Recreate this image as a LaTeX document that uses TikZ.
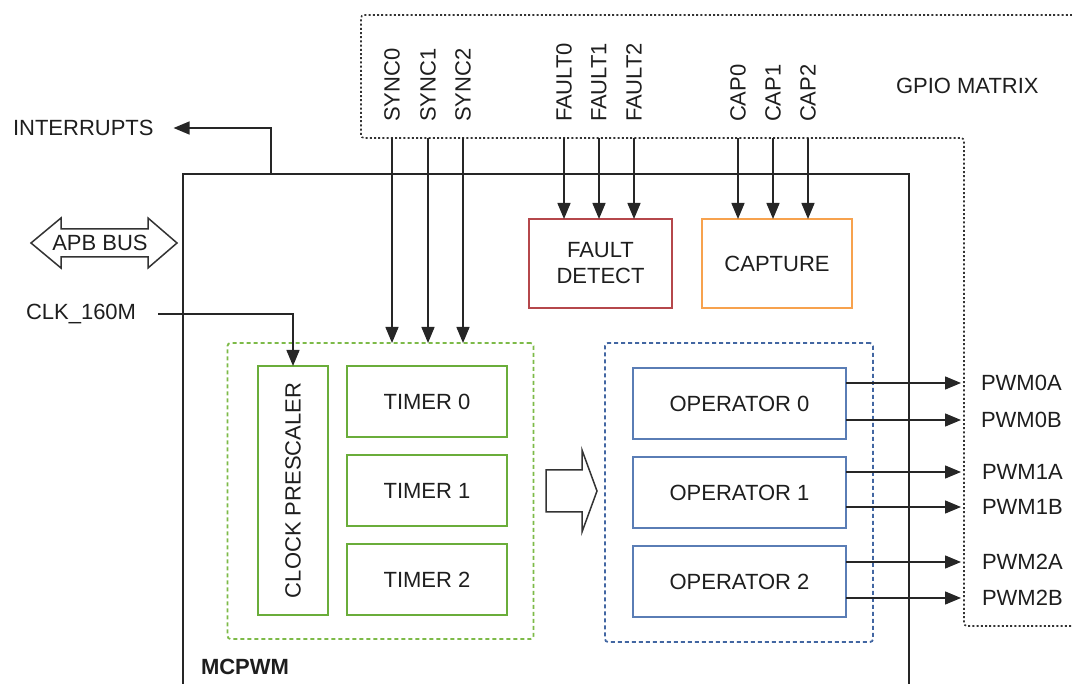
\documentclass[tikz,border=0pt]{standalone}
\usepackage{graphicx}
\usepackage{fontspec}
\setmainfont{Liberation Sans}
\usetikzlibrary{arrows.meta}
\definecolor{tmrgreen}{HTML}{6AAD3A}
\definecolor{tmrdot}{HTML}{7DBA48}
\definecolor{opblue}{HTML}{5A7DB5}
\definecolor{opdot}{HTML}{4266A2}
\definecolor{faultred}{HTML}{B5474B}
\definecolor{caporange}{HTML}{F7A24E}
\definecolor{ink}{HTML}{1E1E1E}

\begin{document}
\begin{tikzpicture}[x=1pt, y=-1pt, font=\fontsize{22}{26}\selectfont, line join=miter,
  every node/.style={inner sep=0pt, outer sep=0pt, text=ink},
  grnbox/.style={draw=tmrgreen, line width=1.6pt},
  opbox/.style={draw=opblue, line width=1.6pt, minimum width=213pt, minimum height=71pt},
  grpbox/.style={line width=1.8pt, dash pattern=on 4pt off 3pt, rounded corners=3pt},
  sig/.style={rotate=90, anchor=west},
  arr/.style={-{Triangle[length=16pt, width=13pt]}, line width=1.5pt, draw=black!85}]
    \useasboundingbox (0,0) rectangle (1072,684);
    % gpio matrix and the mcpwm frame
    \draw[line width=1.6pt, black!80, dash pattern=on 2pt off 2.2pt, rounded corners=3pt]
        (1072,15) -- (361,15) -- (361,138) -- (964,138) -- (964,626) -- (1072,626);
    \draw[line width=1.8pt, black!85] (183,684) -- (183,174) -- (909,174) -- (909,684);
    \coordinate (gpiob) at (0,138);
    \coordinate (gpior) at (961,0);
    \node[anchor=west] (gpio) at (896,86) {GPIO MATRIX};
    \node[anchor=west, font=\fontsize{22}{26}\selectfont\bfseries] (mcpwm) at (201,667) {MCPWM};

    % left side signals
    \node[anchor=west] (intr) at (13,128) {INTERRUPTS};
    \draw[arr] (271,174) |- ([xshift=20pt]intr.east);
    \draw[line width=1.5pt, black!80, fill=white]
        (31,243) -- (61,218) -- (61,229) -- (148,229) -- (148,218) -- (177,243)
        -- (148,268) -- (148,257) -- (61,257) -- (61,268) -- cycle;
    \node (apb) at (100,243) {APB BUS};
    \node[anchor=west] (clk) at (26,314) {CLK\_160M};

    % timers
    \node[grpbox, draw=tmrdot, minimum width=306pt, minimum height=296pt] (timers) at (380.5,491) {};
    \node[grnbox, minimum width=70pt, minimum height=249pt] (presc) at (293,490.5) {\rotatebox{90}{CLOCK PRESCALER}};
    \node[grnbox, minimum width=160pt, minimum height=71pt] (timer0) at (427,401.5) {TIMER 0};
    \node[grnbox, minimum width=160pt, minimum height=71pt] (timer1) at (427,490.5) {TIMER 1};
    \node[grnbox, minimum width=160pt, minimum height=71pt] (timer2) at (427,579.5) {TIMER 2};
    \draw[arr] ([xshift=22pt]clk.east) -| (presc.north);

    % sync, fault and capture inputs
    \node[sig] (sync0) at (392,122) {SYNC0};
    \node[sig] (sync1) at (428,122) {SYNC1};
    \node[sig] (sync2) at (463,122) {SYNC2};
    \node[sig] (fault0) at (564,122) {FAULT0};
    \node[sig] (fault1) at (599,122) {FAULT1};
    \node[sig] (fault2) at (634,122) {FAULT2};
    \node[sig] (cap0) at (738,122) {CAP0};
    \node[sig] (cap1) at (773,122) {CAP1};
    \node[sig] (cap2) at (808,122) {CAP2};
    \node[draw=faultred, line width=1.8pt, minimum width=143pt, minimum height=89pt, align=center] (fault) at (600.5,263.5) {FAULT\\DETECT};
    \node[draw=caporange, line width=1.8pt, minimum width=150pt, minimum height=89pt] (capture) at (777,263.5) {CAPTURE};
    \draw[arr] (sync0 |- gpiob) -- (sync0 |- timers.north);
    \draw[arr] (sync1 |- gpiob) -- (sync1 |- timers.north);
    \draw[arr] (sync2 |- gpiob) -- (sync2 |- timers.north);
    \draw[arr] (fault0 |- gpiob) -- (fault0 |- fault.north);
    \draw[arr] (fault1 |- gpiob) -- (fault1 |- fault.north);
    \draw[arr] (fault2 |- gpiob) -- (fault2 |- fault.north);
    \draw[arr] (cap0 |- gpiob) -- (cap0 |- capture.north);
    \draw[arr] (cap1 |- gpiob) -- (cap1 |- capture.north);
    \draw[arr] (cap2 |- gpiob) -- (cap2 |- capture.north);

    % timers to operators
    \draw[line width=1.5pt, black!80, fill=white]
        (546,470) -- (582,470) -- (582,450) -- (597,491) -- (582,532) -- (582,512) -- (546,512) -- cycle;

    % operators
    \node[grpbox, draw=opdot, minimum width=268pt, minimum height=299pt] (ops) at (739,492.5) {};
    \node[opbox] (op0) at (739.5,403.5) {OPERATOR 0};
    \node[opbox] (op1) at (739.5,492.5) {OPERATOR 1};
    \node[opbox] (op2) at (739.5,581.5) {OPERATOR 2};

    % pwm outputs
    \node[anchor=west] (pwm0a) at (981,383) {PWM0A};
    \node[anchor=west] (pwm0b) at (981,420) {PWM0B};
    \node[anchor=west] (pwm1a) at (982,472) {PWM1A};
    \node[anchor=west] (pwm1b) at (982,507) {PWM1B};
    \node[anchor=west] (pwm2a) at (982,562) {PWM2A};
    \node[anchor=west] (pwm2b) at (982,598) {PWM2B};
    \draw[arr] (op0.east |- pwm0a) -- (gpior |- pwm0a);
    \draw[arr] (op0.east |- pwm0b) -- (gpior |- pwm0b);
    \draw[arr] (op1.east |- pwm1a) -- (gpior |- pwm1a);
    \draw[arr] (op1.east |- pwm1b) -- (gpior |- pwm1b);
    \draw[arr] (op2.east |- pwm2a) -- (gpior |- pwm2a);
    \draw[arr] (op2.east |- pwm2b) -- (gpior |- pwm2b);
\end{tikzpicture}
\end{document}
